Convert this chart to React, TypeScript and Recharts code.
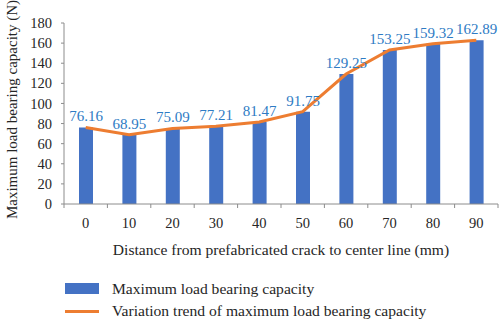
import React from 'react';
import { ComposedChart, Bar, Line, XAxis, YAxis, Legend, LabelList } from 'recharts';

const categories = ['0', '10', '20', '30', '40', '50', '60', '70', '80', '90'];
const capacity = [76.16, 68.95, 75.09, 77.21, 81.47, 91.75, 129.25, 153.25, 159.32, 162.89];
const yTicks = [0, 20, 40, 60, 80, 100, 120, 140, 160, 180];

const data = categories.map((c, i) => ({ distance: c, capacity: capacity[i], trend: capacity[i] }));

const FONT = '"Liberation Serif", "Times New Roman", serif';
const W = 500;
const H = 322;
const MARGIN = { top: 23, right: 2, bottom: 0, left: 0 };
const Y_W = 64;
const TICK_SIZE = 4;
const TICK_MARGIN = 10;
const AXIS_COLOR = '#8c8c8c';
const TEXT_COLOR = '#262626';
const BAR_COLOR = '#4472C4';
const LINE_COLOR = '#ED7D31';
const LABEL_COLOR = '#2E7BC4';

const halfBand = (W - MARGIN.left - MARGIN.right - Y_W) / categories.length / 2;

const XTick = (props: any) => {
  const { x, y, payload, index } = props;
  const axisY = y - TICK_SIZE - TICK_MARGIN;
  return (
    <g>
      <line x1={x - halfBand} x2={x - halfBand} y1={axisY} y2={axisY + TICK_SIZE} stroke={AXIS_COLOR} />
      {index === categories.length - 1 && (
        <line x1={x + halfBand} x2={x + halfBand} y1={axisY} y2={axisY + TICK_SIZE} stroke={AXIS_COLOR} />
      )}
      <text x={x} y={y} dy="0.71em" textAnchor="middle" fill={TEXT_COLOR} fontSize={14.5} fontFamily={FONT}>
        {payload.value}
      </text>
    </g>
  );
};

const YLabel = (props: any) => {
  const vb = props.viewBox;
  const cx = 12;
  const cy = vb.y + vb.height / 2 - 4;
  return (
    <text
      x={cx}
      y={cy}
      transform={`rotate(-90 ${cx} ${cy})`}
      textAnchor="middle"
      dominantBaseline="central"
      fill={TEXT_COLOR}
      fontSize={15}
      fontFamily={FONT}
    >
      Maximum load bearing capacity (N)
    </text>
  );
};

const LegendContent = (props: any) => {
  const payload = props.payload || [];
  return (
    <div style={{ height: 44, paddingLeft: 65, fontFamily: FONT, fontSize: 15.6, color: TEXT_COLOR }}>
      {payload.map((p: any, i: number) => (
        <div key={i} style={{ display: 'flex', alignItems: 'center', height: 21, marginBottom: 1.5 }}>
          <svg width={34} height={21} style={{ marginRight: 13, flexShrink: 0 }}>
            {p.type === 'rect' ? (
              <rect x={0} y={5} width={34} height={11} fill={p.color} />
            ) : (
              <line x1={0} x2={34} y1={10.5} y2={10.5} stroke={p.color} strokeWidth={3} />
            )}
          </svg>
          <span style={{ whiteSpace: 'nowrap' }}>{p.value}</span>
        </div>
      ))}
    </div>
  );
};

export default function App() {
  return (
    <div style={{ position: 'absolute', left: 0, top: 0, width: W, height: H, background: '#fff' }}>
      <ComposedChart width={W} height={H} data={data} margin={MARGIN} barCategoryGap="34%">
        <XAxis
          dataKey="distance"
          height={74}
          axisLine={{ stroke: AXIS_COLOR }}
          tickLine={false}
          tickSize={TICK_SIZE}
          tickMargin={TICK_MARGIN}
          tick={<XTick />}
          interval={0}
          label={{
            value: 'Distance from prefabricated crack to center line (mm)',
            position: 'insideTop',
            offset: 40,
            fill: TEXT_COLOR,
            fontSize: 15.6,
            fontFamily: FONT,
          }}
        />
        <YAxis
          width={Y_W}
          domain={[0, 180]}
          ticks={yTicks}
          interval={0}
          axisLine={{ stroke: AXIS_COLOR }}
          tickLine={{ stroke: AXIS_COLOR }}
          tickSize={3}
          tickMargin={9}
          tick={{ fill: TEXT_COLOR, fontSize: 14.5, fontFamily: FONT }}
          label={<YLabel />}
        />
        <Legend
          verticalAlign="bottom"
          align="left"
          content={<LegendContent />}
          wrapperStyle={{ height: 44, width: W, left: 0 }}
          payload={[
            { value: 'Maximum load bearing capacity', type: 'rect', color: BAR_COLOR, id: 'bar' },
            { value: 'Variation trend of maximum load bearing capacity', type: 'line', color: LINE_COLOR, id: 'line' },
          ]}
        />
        <Bar dataKey="capacity" name="Maximum load bearing capacity" fill={BAR_COLOR} barSize={14} isAnimationActive={false}>
          <LabelList dataKey="capacity" position="top" offset={6} fill={LABEL_COLOR} fontSize={15} fontFamily={FONT} />
        </Bar>
        <Line
          dataKey="trend"
          name="Variation trend of maximum load bearing capacity"
          type="linear"
          stroke={LINE_COLOR}
          strokeWidth={3}
          dot={false}
          activeDot={false}
          isAnimationActive={false}
        />
      </ComposedChart>
    </div>
  );
}
